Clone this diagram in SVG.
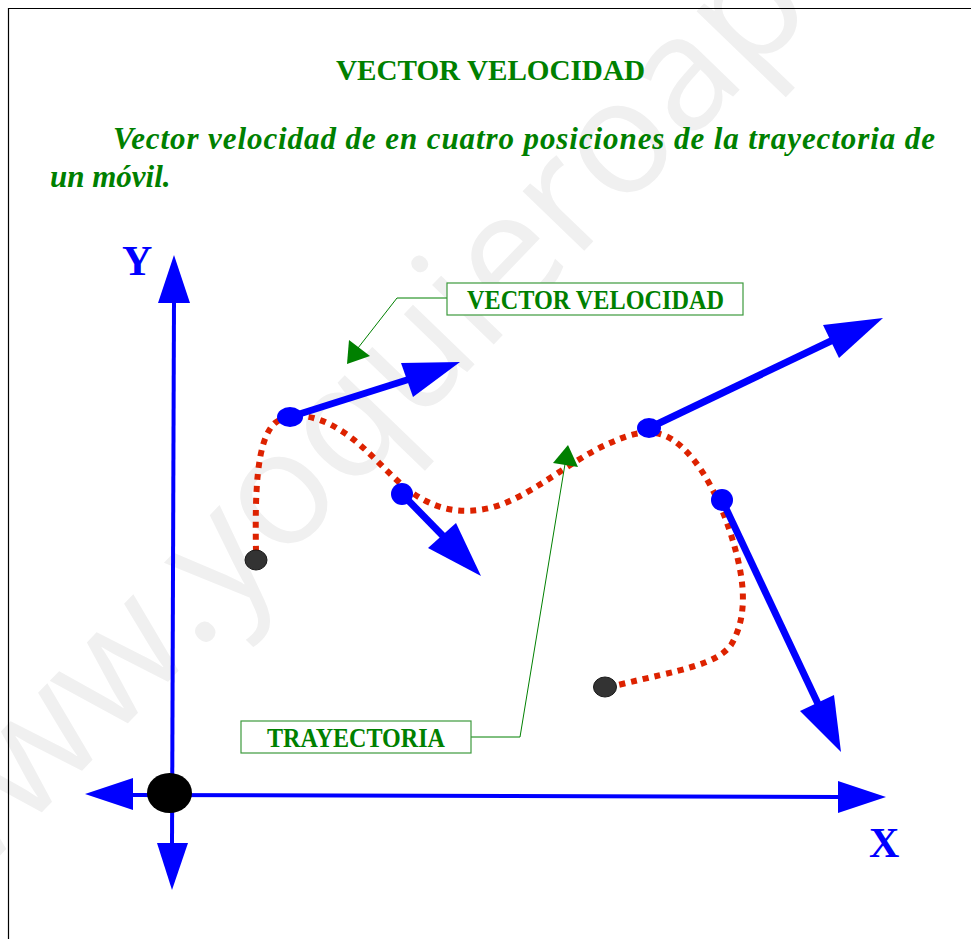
<svg xmlns="http://www.w3.org/2000/svg" width="971" height="939" viewBox="0 0 971 939">
  <style>
    .border { stroke: #000; stroke-width: 1.2; fill: none; }
    .wm { font-family: "Open Sans", "DejaVu Sans", sans-serif; font-size: 160px; fill: #f0f0f0; }
    .green { fill: #008000; font-family: "Liberation Serif", "Times New Roman", serif; font-weight: bold; }
    .axisline { stroke: #0000ff; stroke-width: 4; fill: none; }
    .vec { stroke: #0000ff; stroke-width: 7; fill: none; }
    .blue { fill: #0000ff; }
    .axislabel { fill: #0000ff; font-family: "Liberation Serif", "Times New Roman", serif; font-weight: bold; font-size: 42px; }
    .traj { stroke: #dd2200; stroke-width: 6; stroke-dasharray: 6 6; fill: none; }
    .endpt { fill: #333333; stroke: #1a1a1a; stroke-width: 1; }
    .box { fill: #ffffff; stroke: #3d9a3d; stroke-width: 1.2; }
    .leader { stroke: #008000; stroke-width: 1; fill: none; }
    .leaderhead { fill: #008000; }
  </style>

  <rect x="0" y="0" width="971" height="939" fill="#ffffff"/>

  <!-- watermark -->
  <text class="wm" x="-62" y="920" transform="rotate(-46 -62 920)">www.yoquieroaprobar.es</text>

  <!-- page border -->
  <path class="border" d="M8.5,939 V8.5 H971"/>

  <g id="title">
    <text class="green" x="336" y="80" font-size="30" textLength="309" lengthAdjust="spacingAndGlyphs">VECTOR VELOCIDAD</text>
  </g>
  <g id="subtitle">
    <text class="green" font-style="italic" x="113" y="149" font-size="31" textLength="822">Vector velocidad de en cuatro posiciones de la trayectoria de</text>
    <text class="green" font-style="italic" x="50" y="187" font-size="31">un móvil.</text>
  </g>

  <g id="axes">
    <line class="axisline" x1="174" y1="300" x2="172" y2="845"/>
    <line class="axisline" x1="130" y1="795" x2="840" y2="797"/>
    <polygon class="blue" points="174,255 158,303 190,303"/>
    <polygon class="blue" points="172,890 157,843 188,843"/>
    <polygon class="blue" points="85,794 133,778 133,810"/>
    <polygon class="blue" points="886,797 838,781 838,813"/>
    <ellipse cx="169.5" cy="793" rx="22.5" ry="20" fill="#000"/>
    <text class="axislabel" x="122" y="275">Y</text>
    <text class="axislabel" x="869" y="857">X</text>
  </g>

  <g id="trajectory">
    <path class="traj" d="M256,552 C255,495 256,440 275,423 C292,410 318,416 340,430 C370,448 392,482 422,499 C442,510 462,514 490,508 C530,498 570,460 610,443 C630,434 652,426 673,440 C700,458 725,505 738,560 C745,590 746,620 731,645 C716,665 680,670 618,685"/>
    <ellipse class="endpt" cx="256" cy="560" rx="11" ry="10"/>
    <ellipse class="endpt" cx="605" cy="687" rx="11.5" ry="10"/>
  </g>

  <g id="velocity-vectors">
    <g id="v1">
      <line class="vec" x1="290" y1="417" x2="410" y2="379"/>
      <polygon class="blue" points="460,362 401,363 413,397"/>
      <ellipse class="blue" cx="290" cy="417" rx="13" ry="10"/>
    </g>
    <g id="v2">
      <line class="vec" x1="402" y1="494" x2="444" y2="537"/>
      <polygon class="blue" points="481,576 428,548 456,523"/>
      <ellipse class="blue" cx="402" cy="494" rx="11" ry="11"/>
    </g>
    <g id="v3">
      <line class="vec" x1="649" y1="428" x2="833" y2="340"/>
      <polygon class="blue" points="883,318 823,325 839,358"/>
      <ellipse class="blue" cx="649" cy="428" rx="12" ry="10"/>
    </g>
    <g id="v4">
      <line class="vec" x1="722" y1="500" x2="819" y2="706"/>
      <polygon class="blue" points="841,752 800,711 834,695"/>
      <ellipse class="blue" cx="722" cy="500" rx="11" ry="11"/>
    </g>
  </g>

  <g id="connectors">
    <polyline class="leader" points="447,298 397,298 358,348"/>
    <polygon class="leaderhead" points="347,364 349,340 370,356"/>
    <polyline class="leader" points="471,737 520,737 566,458"/>
    <polygon class="leaderhead" points="568,445 553,463 578,467"/>
  </g>

  <g id="label-vector-velocidad">
    <rect class="box" x="447" y="283" width="296" height="32"/>
    <text class="green" x="467" y="309" font-size="27" textLength="257" lengthAdjust="spacingAndGlyphs">VECTOR VELOCIDAD</text>
  </g>
  <g id="label-trayectoria">
    <rect class="box" x="241" y="721" width="230" height="32"/>
    <text class="green" x="267" y="747" font-size="27" textLength="178" lengthAdjust="spacingAndGlyphs">TRAYECTORIA</text>
  </g>
</svg>
